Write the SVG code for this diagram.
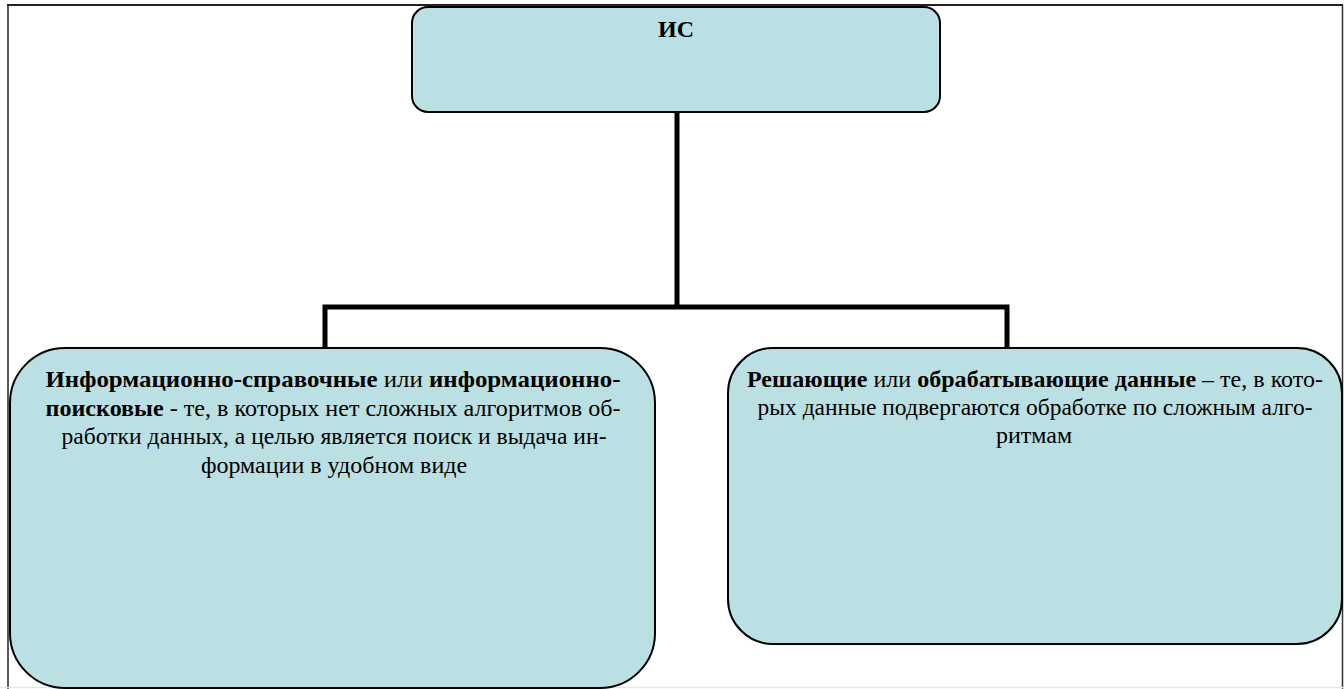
<svg xmlns="http://www.w3.org/2000/svg" width="1344" height="689" viewBox="0 0 1344 689">
<style>
.box{fill:#BBE0E3;stroke:#000;stroke-width:2}
.conn{fill:none;stroke:#000;stroke-width:5}
.t{font-family:"Liberation Serif","Times New Roman",serif;font-size:24px;fill:#000;text-anchor:middle}
.b{font-weight:bold}
</style>
<rect x="0" y="0" width="1344" height="689" fill="#fff"/>
<g id="frame">
<line x1="7" y1="5" x2="1343" y2="5" stroke="#222" stroke-width="2"/>
<line x1="8" y1="5" x2="8" y2="689" stroke="#222" stroke-width="1.5"/>
<line x1="1342.5" y1="5" x2="1342.5" y2="689" stroke="#333" stroke-width="1.5"/>
<line x1="0" y1="687.5" x2="1344" y2="687.5" stroke="#e6e6e6" stroke-width="1.5"/>
</g>
<g id="connectors">
<polyline class="conn" points="677,112 677,307"/>
<polyline class="conn" points="325,348 325,307 1007,307 1007,348"/>
</g>
<g id="node-is">
<rect class="box" x="412" y="7" width="528" height="105" rx="16"/>
<text class="t b" x="676" y="37">ИС</text>
</g>
<g id="node-left">
<rect class="box" x="10" y="348" width="645" height="340" rx="55"/>
<text class="t" x="333" y="387" textLength="575" lengthAdjust="spacingAndGlyphs"><tspan class="b">Информационно-справочные</tspan> или <tspan class="b">информационно-</tspan></text>
<text class="t" x="333" y="415.5" textLength="575" lengthAdjust="spacingAndGlyphs"><tspan class="b">поисковые</tspan> - те, в которых нет сложных алгоритмов об-</text>
<text class="t" x="334" y="444" textLength="545" lengthAdjust="spacingAndGlyphs">работки данных, а целью является поиск и выдача ин-</text>
<text class="t" x="334" y="472.5">формации в удобном виде</text>
</g>
<g id="node-right">
<rect class="box" x="728" y="348" width="614" height="296" rx="45"/>
<text class="t" x="1035" y="387" textLength="576" lengthAdjust="spacingAndGlyphs"><tspan class="b">Решающие</tspan> или <tspan class="b">обрабатывающие данные</tspan> – те, в кото-</text>
<text class="t" x="1035" y="415" textLength="555" lengthAdjust="spacingAndGlyphs">рых данные подвергаются обработке по сложным алго-</text>
<text class="t" x="1034" y="443">ритмам</text>
</g>
</svg>
